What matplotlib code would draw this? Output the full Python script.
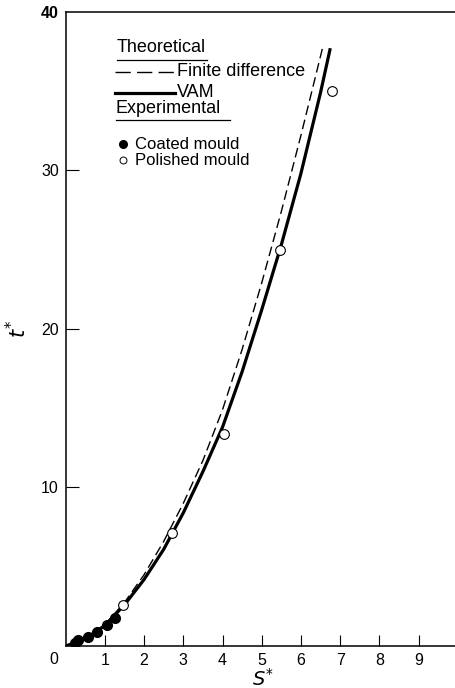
import matplotlib
matplotlib.use('Agg')
import matplotlib.pyplot as plt

plt.rcParams['font.family'] = ['Liberation Sans', 'DejaVu Sans']

# VAM (solid) curve
vam_s = [0, 0.5, 1.0, 1.5, 2.0, 2.5, 3.0, 3.5, 4.0, 4.5, 5.0, 5.5, 6.0, 6.5, 6.74]
vam_t = [0, 0.45, 1.3, 2.6, 4.2, 6.1, 8.4, 11.0, 13.8, 17.3, 21.2, 25.3, 29.8, 34.9, 37.6]

# finite difference (dashed) curve
fd_s = [0, 0.5, 1.0, 1.5, 2.0, 2.5, 3.0, 3.5, 4.0, 4.5, 5.0, 5.5, 6.0, 6.55]
fd_t = [0, 0.5, 1.35, 2.75, 4.5, 6.6, 9.0, 11.7, 14.9, 18.7, 22.9, 27.4, 32.2, 37.7]

# experimental points
coated_s = [0.24, 0.32, 0.58, 0.79, 1.05, 1.26]
coated_t = [0.17, 0.38, 0.55, 0.9, 1.32, 1.75]
polished_s = [1.47, 2.71, 4.04, 5.47, 6.79]
polished_t = [2.58, 7.1, 13.35, 24.97, 35.0]

xticks = [1, 2, 3, 4, 5, 6, 7, 8, 9]
yticks = [10, 20, 30, 40]

fig = plt.figure(figsize=(4.55, 6.88), dpi=100)
ax = fig.add_axes([0.1444, 0.061, 0.8556, 0.922])

ax.plot(fd_s, fd_t, color='black', lw=1.0, dashes=(7, 3.5))
ax.plot(vam_s, vam_t, color='black', lw=2.3)
ax.plot(coated_s, coated_t, 'o', color='black', ms=7)
ax.plot(polished_s, polished_t, 'o', mfc='white', mec='black', mew=0.8, ms=7)

ax.set_xlim(0, 9.93)
ax.set_ylim(0, 40)
ax.spines['right'].set_visible(False)
for sp in ['left', 'bottom', 'top']:
    ax.spines[sp].set_linewidth(1.1)

ax.set_xticks(xticks)
ax.set_xticklabels([str(v) for v in xticks])
ax.set_yticks(yticks)
ax.set_yticklabels([str(v) for v in yticks])
ax.tick_params(axis='x', direction='in', length=8, width=0.8, labelsize=11.5, pad=5)
ax.tick_params(axis='y', direction='in', length=9, width=0.8, labelsize=11.5, pad=5)
ax.get_yticklabels()[-1].set_fontweight('bold')
ax.yaxis.get_major_ticks()[-1].tick1line.set_visible(False)
ax.text(-0.03, -0.022, '0', transform=ax.transAxes, ha='center', va='center', fontsize=11.5)

ax.text(0.507, -0.051, '$S^{*}$', transform=ax.transAxes, ha='center', va='center', fontsize=14)
ax.set_ylabel('$t^{*}$', fontsize=15, labelpad=8)

# hand drawn legend
tr = ax.transAxes
fs = 13
ax.text(0.132, 0.944, 'Theoretical', transform=tr, fontsize=fs, va='center')
ax.plot([0.132, 0.363], [0.924, 0.924], transform=tr, color='black', lw=0.9)
ax.plot([0.127, 0.280], [0.905, 0.905], transform=tr, color='black', lw=1.0, dashes=(11, 4.5))
ax.text(0.286, 0.905, 'Finite difference', transform=tr, fontsize=fs, va='center')
ax.plot([0.127, 0.280], [0.872, 0.872], transform=tr, color='black', lw=2.3)
ax.text(0.286, 0.872, 'VAM', transform=tr, fontsize=fs, va='center')
ax.text(0.129, 0.847, 'Experimental', transform=tr, fontsize=fs, va='center')
ax.plot([0.129, 0.422], [0.829, 0.829], transform=tr, color='black', lw=0.9)
ax.plot([0.147], [0.791], 'o', transform=tr, color='black', ms=5.5)
ax.text(0.178, 0.791, 'Coated mould', transform=tr, fontsize=12, va='center')
ax.plot([0.147], [0.766], 'o', transform=tr, mfc='white', mec='black', mew=0.7, ms=5)
ax.text(0.178, 0.766, 'Polished mould', transform=tr, fontsize=12, va='center')

fig.savefig('out.png', dpi=100)
plt.close(fig)
